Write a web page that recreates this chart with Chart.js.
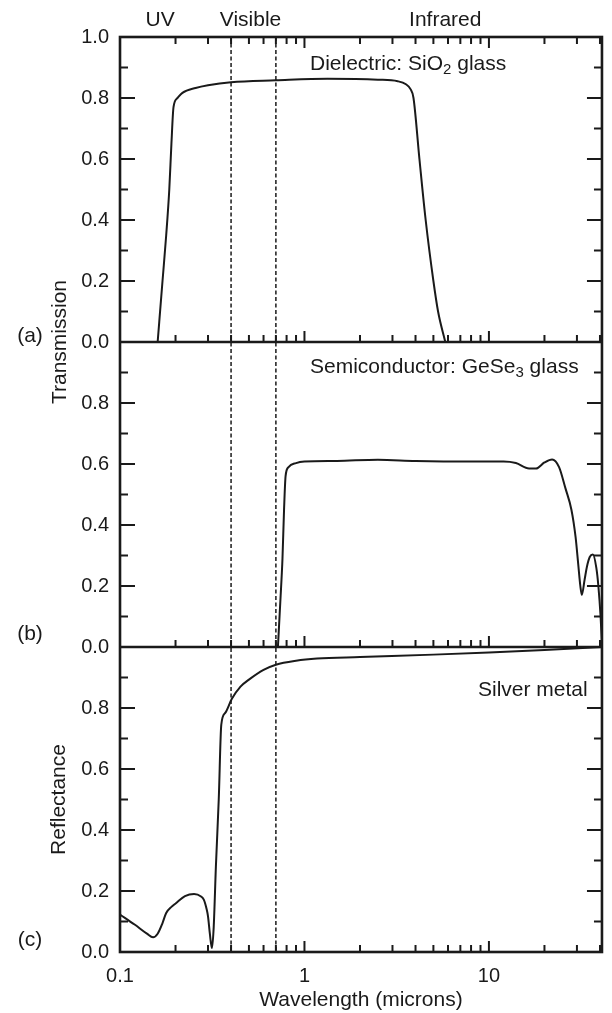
<!DOCTYPE html>
<html>
<head>
<meta charset="utf-8">
<script src="https://cdn.jsdelivr.net/npm/chart.js@4.4.1/dist/chart.umd.min.js"></script>
<style>
  html, body { margin: 0; padding: 0; background: #fff; }
</style>
</head>
<body>
<canvas id="myChart" width="612" height="1013"></canvas>
<script>
// (a) dielectric SiO2 glass - transmission
const sio2Wl = [0.16, 0.17, 0.178, 0.185, 0.19, 0.195, 0.205, 0.218, 0.257, 0.3, 0.4, 0.7, 1.33, 2.5, 3.2, 3.55, 3.75, 3.9, 4.2, 4.54, 5.0, 5.3, 5.8];
const sio2T = [0.0, 0.2, 0.35, 0.5, 0.65, 0.77, 0.8, 0.817, 0.833, 0.842, 0.852, 0.858, 0.863, 0.86, 0.855, 0.845, 0.83, 0.8, 0.6, 0.4, 0.2, 0.1, 0.0];

// (b) semiconductor GeSe3 glass - transmission
const geseWl = [0.718, 0.74, 0.76, 0.775, 0.79, 0.82, 0.9, 1.0, 1.5, 2.5, 4, 8, 12, 14, 16.5, 18, 20, 22, 24, 26, 28, 29.5, 30.5, 31.3, 31.9, 33, 34, 35.2, 36.6, 38.2, 39.2, 40.3, 41];
const geseT = [0.0, 0.15, 0.29, 0.45, 0.56, 0.59, 0.603, 0.608, 0.61, 0.614, 0.61, 0.608, 0.608, 0.603, 0.585, 0.585, 0.605, 0.615, 0.59, 0.52, 0.45, 0.36, 0.27, 0.2, 0.171, 0.22, 0.264, 0.295, 0.303, 0.26, 0.2, 0.1, 0.01];

// (c) silver metal - reflectance
const agWl = [0.1, 0.12, 0.14, 0.151, 0.16, 0.17, 0.178, 0.19, 0.201, 0.225, 0.252, 0.275, 0.285, 0.295, 0.3, 0.307, 0.315, 0.322, 0.331, 0.343, 0.354, 0.372, 0.404, 0.45, 0.5, 0.6, 0.7, 0.9, 1.17, 2, 5, 10, 20, 41];
const agR = [0.123, 0.09, 0.06, 0.048, 0.06, 0.095, 0.128, 0.148, 0.16, 0.183, 0.19, 0.182, 0.171, 0.14, 0.117, 0.06, 0.013, 0.08, 0.28, 0.5, 0.745, 0.784, 0.83, 0.87, 0.893, 0.925, 0.942, 0.955, 0.962, 0.967, 0.975, 0.982, 0.99, 1.0];

// visible band edges (microns)
const visibleEdges = [0.4, 0.7];

// ticks
const xTicks = [0.1, 0.2, 0.3, 0.4, 0.5, 0.6, 0.7, 0.8, 0.9, 1, 2, 3, 4, 5, 6, 7, 8, 9, 10, 20, 30, 40];
const xMajor = [0.1, 1, 10];
const xMajorText = ['0.1', '1', '10'];
const yTicks = [0, 0.1, 0.2, 0.3, 0.4, 0.5, 0.6, 0.7, 0.8, 0.9, 1.0];
const yMajor = [0, 0.2, 0.4, 0.6, 0.8, 1.0];
const yMajorText = ['0.0', '0.2', '0.4', '0.6', '0.8', '1.0'];

// band labels along the top
const bandNames = ['UV', 'Visible', 'Infrared'];
const bandAt = [0.165, 0.51, 5.8];

const FONT = '"Liberation Sans", Arial, Helvetica, sans-serif';
const INK = '#1a1a1a';
const TXT = 21;

function pts(xs, ys) {
    return xs.map((x, i) => ({ x: x, y: ys[i] }));
}

function yAxis(weight, showTop, title) {
    return {
        type: 'linear',
        position: 'left',
        stack: 'panels',
        stackWeight: 1,
        weight: weight,
        min: 0,
        max: 1,
        grid: { display: false, drawTicks: false },
        border: { display: false },
        afterBuildTicks: s => { s.ticks = yMajor.map(v => ({ value: v })); },
        afterFit: s => { s.width = 120; },
        ticks: {
            padding: 11,
            color: INK,
            font: { family: FONT, size: 20 },
            callback: (v, i) => (!showTop && v === 1) ? '' : yMajorText[i]
        },
        title: title ? {
            display: true,
            text: title,
            color: INK,
            font: { family: FONT, size: TXT },
            padding: { top: 47, bottom: 0 }
        } : { display: false }
    };
}

// subscripted text: parts = [[text, isSub], ...]
function drawRich(ctx, parts, x, y) {
    let cx = x;
    for (const [t, sub] of parts) {
        ctx.font = (sub ? 15 : TXT) + 'px ' + FONT;
        ctx.fillText(t, cx, sub ? y + 6 : y);
        cx += ctx.measureText(t).width;
    }
}

const panelDecor = {
    id: 'panelDecor',
    beforeDatasetsDraw(chart) {
        const { ctx, chartArea: a, scales } = chart;
        ctx.save();
        ctx.strokeStyle = INK;
        ctx.lineWidth = 1.5;
        ctx.setLineDash([4, 2.5]);
        visibleEdges.forEach(v => {
            const px = scales.x.getPixelForValue(v);
            ctx.beginPath();
            ctx.moveTo(px, a.top);
            ctx.lineTo(px, a.bottom);
            ctx.stroke();
        });
        ctx.restore();
    },
    afterDraw(chart) {
        const { ctx, chartArea: a, scales } = chart;
        const panels = [scales.yA, scales.yB, scales.yC];
        ctx.save();
        ctx.strokeStyle = INK;
        ctx.fillStyle = INK;

        // inward ticks
        ctx.lineWidth = 2;
        panels.forEach((s, k) => {
            yTicks.forEach(v => {
                const py = s.getPixelForValue(v);
                const len = yMajor.includes(v) ? 15 : 8;
                ctx.beginPath();
                ctx.moveTo(a.left, py); ctx.lineTo(a.left + len, py);
                ctx.moveTo(a.right, py); ctx.lineTo(a.right - len, py);
                ctx.stroke();
            });
            const base = s.getPixelForValue(0);
            xTicks.forEach(v => {
                const px = scales.x.getPixelForValue(v);
                const len = xMajor.includes(v) ? 11 : 7;
                ctx.beginPath();
                ctx.moveTo(px, base); ctx.lineTo(px, base - len);
                if (k === 0) {
                    ctx.moveTo(px, a.top); ctx.lineTo(px, a.top + len);
                }
                ctx.stroke();
            });
        });

        // frame and panel separators
        ctx.lineWidth = 2.6;
        ctx.strokeRect(a.left, a.top, a.right - a.left, a.bottom - a.top);
        [scales.yA, scales.yB].forEach(s => {
            const py = s.getPixelForValue(0);
            ctx.beginPath();
            ctx.moveTo(a.left, py); ctx.lineTo(a.right, py);
            ctx.stroke();
        });

        // texts
        ctx.textBaseline = 'middle';
        ctx.font = TXT + 'px ' + FONT;
        ctx.textAlign = 'center';
        bandNames.forEach((n, i) => ctx.fillText(n, scales.x.getPixelForValue(bandAt[i]), 20));

        ctx.fillText('(a)', 30, scales.yA.getPixelForValue(0) - 6);
        ctx.fillText('(b)', 30, scales.yB.getPixelForValue(0) - 13);
        ctx.fillText('(c)', 30, scales.yC.getPixelForValue(0) - 12);

        ctx.textAlign = 'left';
        drawRich(ctx, [['Dielectric: SiO', false], ['2', true], [' glass', false]], 310, 64);
        drawRich(ctx, [['Semiconductor: GeSe', false], ['3', true], [' glass', false]], 310, 367);
        ctx.font = TXT + 'px ' + FONT;
        ctx.fillText('Silver metal', 478, 690);

        // shared title for (a) and (b)
        ctx.translate(60, scales.yA.getPixelForValue(0));
        ctx.rotate(-Math.PI / 2);
        ctx.textAlign = 'center';
        ctx.fillText('Transmission', 0, 0);
        ctx.restore();
    }
};

const lineStyle = {
    borderColor: INK,
    borderWidth: 2,
    pointRadius: 0,
    fill: false,
    cubicInterpolationMode: 'monotone'
};

const ctx = document.getElementById('myChart');
new Chart(ctx, {
    type: 'line',
    data: {
        datasets: [
            Object.assign({ label: 'SiO2 glass', data: pts(sio2Wl, sio2T), yAxisID: 'yA' }, lineStyle),
            Object.assign({ label: 'GeSe3 glass', data: pts(geseWl, geseT), yAxisID: 'yB' }, lineStyle),
            Object.assign({ label: 'Silver metal', data: pts(agWl, agR), yAxisID: 'yC' }, lineStyle)
        ]
    },
    options: {
        responsive: false,
        animation: false,
        devicePixelRatio: 1,
        layout: { padding: { top: 37, right: 3, bottom: 0, left: 0 } },
        plugins: { legend: { display: false }, tooltip: { enabled: false } },
        scales: {
            x: {
                type: 'logarithmic',
                position: 'bottom',
                min: 0.1,
                max: 41,
                grid: { display: false, drawTicks: false },
                border: { display: false },
                afterBuildTicks: s => { s.ticks = xTicks.map(v => ({ value: v })); },
                afterFit: s => { s.height = 61; },
                ticks: {
                    autoSkip: false,
                    maxRotation: 0,
                    padding: 12,
                    color: INK,
                    font: { family: FONT, size: 20 },
                    callback: v => {
                        const i = xMajor.indexOf(v);
                        return i < 0 ? '' : xMajorText[i];
                    }
                },
                title: {
                    display: true,
                    text: 'Wavelength (microns)',
                    color: INK,
                    font: { family: FONT, size: TXT },
                    padding: { top: 0, bottom: 0 }
                }
            },
            yC: yAxis(1, false, 'Reflectance'),
            yB: yAxis(2, false, null),
            yA: yAxis(3, true, null)
        }
    },
    plugins: [panelDecor]
});
</script>
</body>
</html>
